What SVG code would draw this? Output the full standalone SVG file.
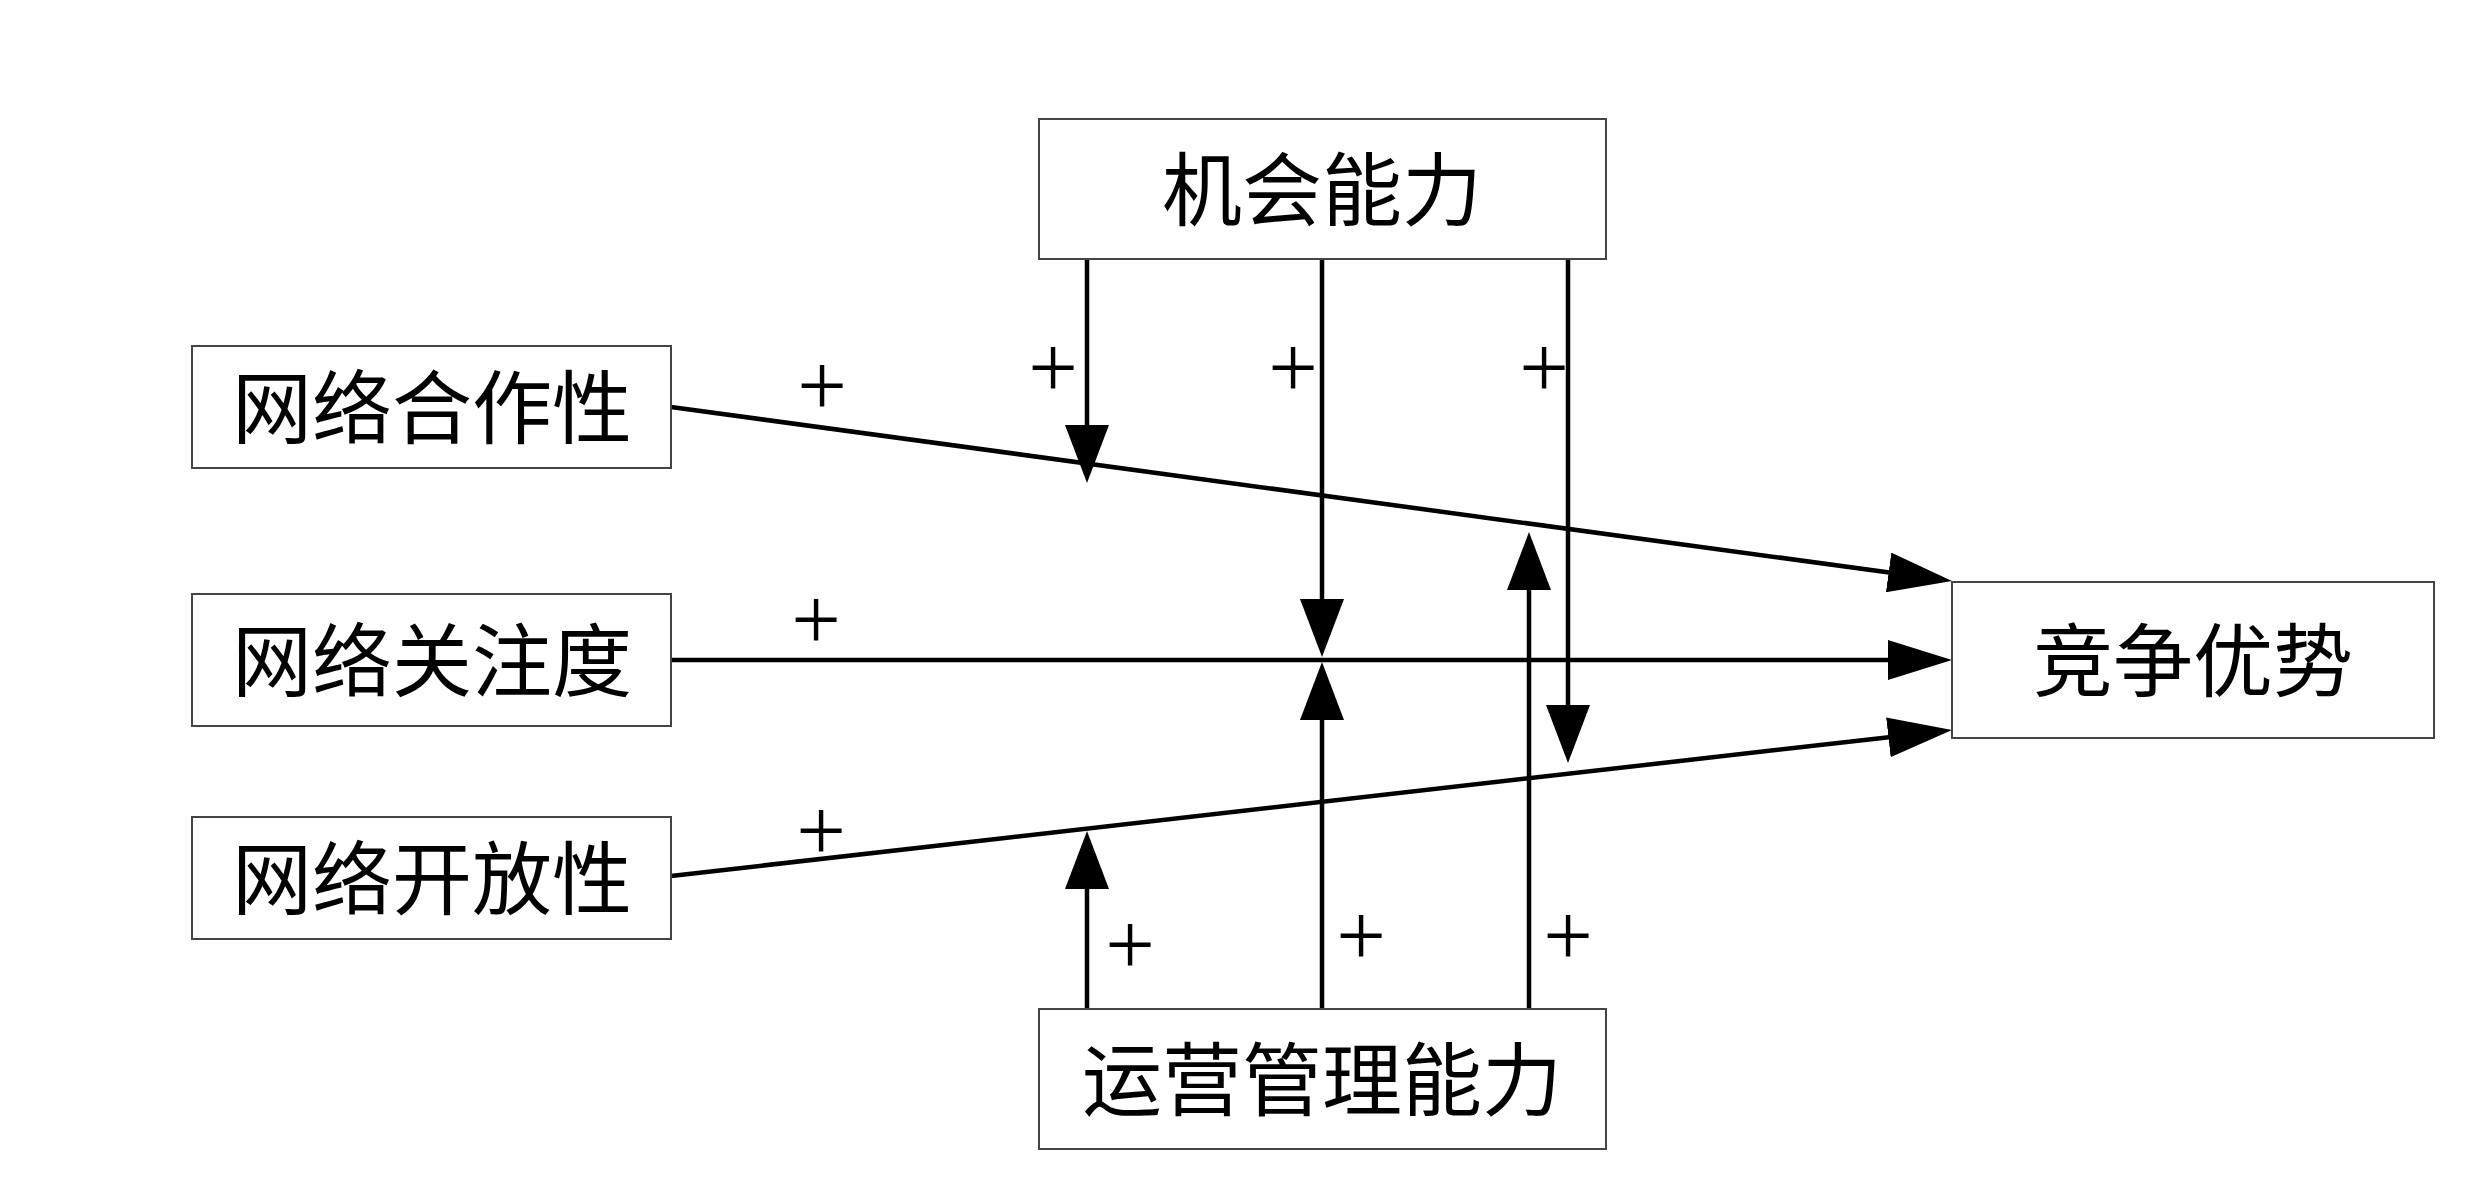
<svg xmlns="http://www.w3.org/2000/svg" width="2480" height="1201" viewBox="0 0 2480 1201">
<style>
.box{fill:#fff;stroke:#444;stroke-width:2}
.lbl{font-family:"Noto Sans CJK SC","Liberation Serif",sans-serif;font-size:80px;fill:#000;text-anchor:middle}
.plus{font-family:"Liberation Serif",serif;font-size:88px;fill:#000;text-anchor:middle}
.edge{stroke:#000;stroke-width:4.5;fill:none}
</style>
<defs>
<marker id="ah" markerUnits="userSpaceOnUse" viewBox="0 0 64 40" markerWidth="64" markerHeight="40" refX="34" refY="20" orient="auto"><path d="M0,0 L64,20 L0,40 Z" fill="#000"/></marker>
<marker id="av" markerUnits="userSpaceOnUse" viewBox="0 0 58 44" markerWidth="58" markerHeight="44" refX="33" refY="22" orient="auto"><path d="M0,0 L58,22 L0,44 Z" fill="#000"/></marker>
</defs>
<rect width="2480" height="1201" fill="#fff"/>
<g id="connectors">
<line class="edge" x1="671" y1="407" x2="1922.3" y2="577" marker-end="url(#ah)"/>
<line class="edge" x1="671" y1="660" x2="1922" y2="660" marker-end="url(#ah)"/>
<line class="edge" x1="671" y1="876" x2="1922.2" y2="733.4" marker-end="url(#ah)"/>
<line class="edge" x1="1087" y1="259" x2="1087" y2="458" marker-end="url(#av)"/>
<line class="edge" x1="1322" y1="259" x2="1322" y2="632" marker-end="url(#av)"/>
<line class="edge" x1="1568" y1="259" x2="1568" y2="738" marker-end="url(#av)"/>
<line class="edge" x1="1087" y1="1009" x2="1087" y2="856" marker-end="url(#av)"/>
<line class="edge" x1="1322" y1="1009" x2="1322" y2="687" marker-end="url(#av)"/>
<line class="edge" x1="1529" y1="1009" x2="1529" y2="557" marker-end="url(#av)"/>
</g>
<g id="signs">
<text class="plus" x="822" y="415">+</text>
<text class="plus" x="1053" y="397">+</text>
<text class="plus" x="1293" y="397">+</text>
<text class="plus" x="1544" y="397">+</text>
<text class="plus" x="816" y="649">+</text>
<text class="plus" x="821" y="860">+</text>
<text class="plus" x="1130" y="974">+</text>
<text class="plus" x="1361" y="965">+</text>
<text class="plus" x="1568" y="965">+</text>
</g>
<g id="n-opportunity"><rect class="box" x="1039" y="119" width="567" height="140"/><text class="lbl" x="1322" y="219">机会能力</text></g>
<g id="n-cooperation"><rect class="box" x="192" y="346" width="479" height="122"/><text class="lbl" x="432" y="437">网络合作性</text></g>
<g id="n-attention"><rect class="box" x="192" y="594" width="479" height="132"/><text class="lbl" x="432" y="690">网络关注度</text></g>
<g id="n-openness"><rect class="box" x="192" y="817" width="479" height="122"/><text class="lbl" x="432" y="908">网络开放性</text></g>
<g id="n-advantage"><rect class="box" x="1952" y="582" width="482" height="156"/><text class="lbl" x="2193" y="690">竞争优势</text></g>
<g id="n-operation"><rect class="box" x="1039" y="1009" width="567" height="140"/><text class="lbl" x="1322" y="1109">运营管理能力</text></g>
</svg>
